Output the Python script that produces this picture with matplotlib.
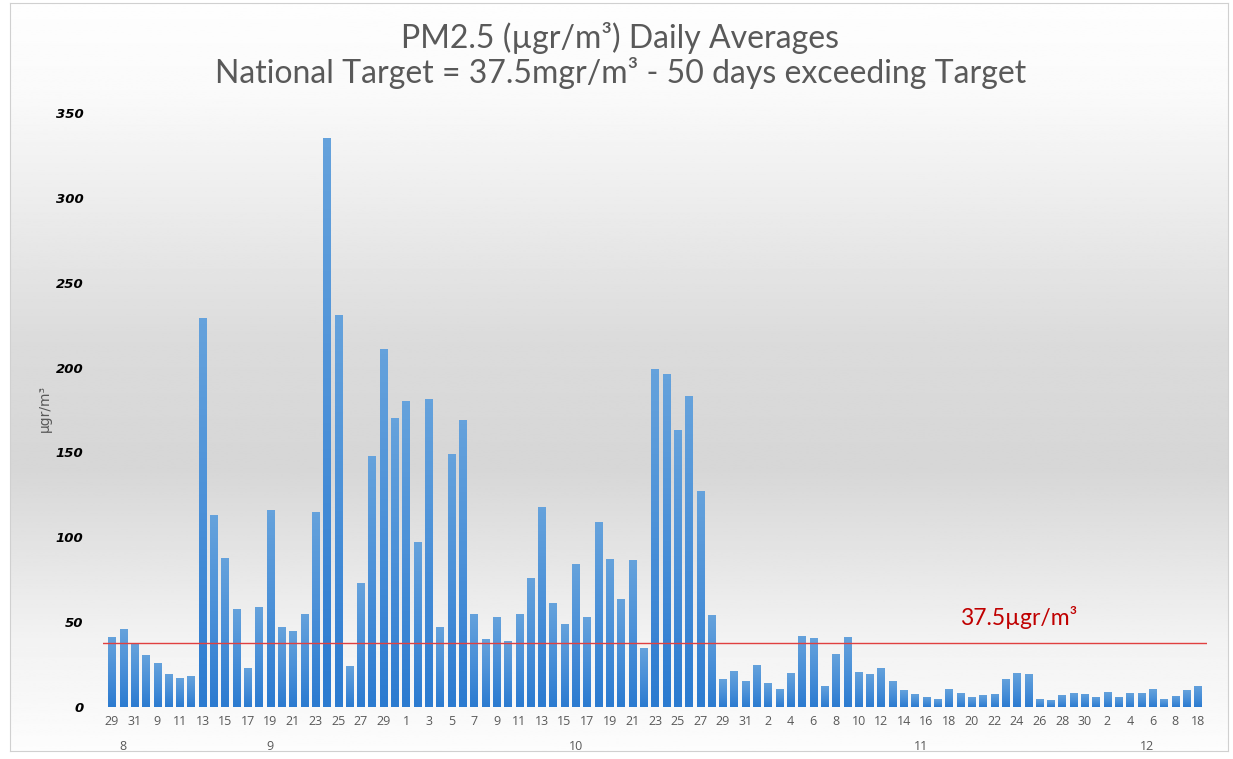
import matplotlib
matplotlib.use('Agg')
import matplotlib.pyplot as plt
import matplotlib.colors as mcolors
import numpy as np

# Daily PM2.5 averages, one bar per measured day
aug_days = [29, 30, 31]
aug_vals = [41, 46, 37]

sep_days = [8, 9, 10, 11, 12, 13, 14, 15, 16, 17, 18, 19, 20, 21, 22, 23, 24, 25, 26, 27, 28, 29, 30]
sep_vals = [30.5, 26, 19.6, 17, 18, 229, 113, 88, 58, 23, 59, 116, 47, 45, 55, 115,
            335, 231, 24, 73, 148, 211, 170]

oct_days = [1, 2, 3, 4, 5, 6, 7, 8, 9, 10, 11, 12, 13, 14, 15, 16, 17, 18, 19, 20,
            21, 22, 23, 24, 25, 26, 27, 28, 29, 30, 31]
oct_vals = [180.5, 97, 181.5, 47, 149, 169, 55, 40, 53, 39, 55, 76, 118, 61, 49, 84,
            53, 109, 87, 63.5, 86.5, 35, 199, 196, 163, 183.5, 127.5, 54, 16.4, 21, 15.6]

nov_days = [1, 2, 3, 4, 5, 6, 7, 8, 9, 10, 11, 12, 13, 14, 15, 16, 17, 18, 19, 20,
            21, 22, 23, 24, 25, 26, 27, 28, 29, 30]
nov_vals = [25, 14, 10.4, 20, 42, 40.5, 12.4, 31, 41.5, 20.6, 19.6, 23, 15.3, 10, 7.5,
            6, 4.5, 10.6, 8, 5.7, 7, 7.7, 16.7, 20, 19.3, 4.7, 4.1, 7, 8, 7.7]

dec_days = [1, 2, 3, 4, 5, 6, 7, 8, 17, 18]
dec_vals = [6, 8.6, 6, 8, 8, 10.4, 4.5, 6.5, 10, 12.4]

months = ['8', '9', '10', '11', '12']
month_days = [aug_days, sep_days, oct_days, nov_days, dec_days]
month_vals = [aug_vals, sep_vals, oct_vals, nov_vals, dec_vals]

target = 37.5

days = [d for m in month_days for d in m]
values = [v for m in month_vals for v in m]
x = np.arange(len(values))

W, H = 1233, 759
fig = plt.figure(figsize=(W / 100, H / 100), dpi=100)
fig.patch.set_facecolor('white')

# Background gradient panel (white -> grey -> white)
bg = fig.add_axes([10 / W, 8 / H, 1218 / W, 748 / H], zorder=-1)
stops_y = [0.0, 0.12, 0.45, 0.62, 0.85, 1.0]
stops_c = [0.995, 0.98, 0.86, 0.84, 0.95, 0.99]
grad = np.interp(np.linspace(0, 1, 400), stops_y, stops_c)
bg.imshow(np.repeat(grad[:, None], 2, axis=1), cmap='gray', vmin=0, vmax=1,
          aspect='auto', extent=[0, 1, 0, 1])
bg.set_xticks([])
bg.set_yticks([])
for s in bg.spines.values():
    s.set_color('#d0d0d0')

# Main axes
ax = fig.add_axes([103 / W, (H - 707) / H, 1104 / W, 594 / H])
ax.patch.set_alpha(0)
bars = ax.bar(x, values, width=0.66, color='none', zorder=2)

# Per-bar vertical gradient, light on top, darker at the base
bar_cmap = mcolors.LinearSegmentedColormap.from_list('bar', ['#2c7bd0', '#4a90d8', '#65a2dc'])
ramp = np.linspace(0, 1, 64)[:, None]
for b in bars:
    x0, w, h = b.get_x(), b.get_width(), b.get_height()
    im = ax.imshow(ramp, cmap=bar_cmap, origin='lower', aspect='auto',
                   extent=[x0, x0 + w, 0, h], zorder=2)
    im.set_clip_path(b)

ax.axhline(target, color='#e04040', lw=1, zorder=3)
ax.text(75, 53, '37.5µgr/m³', color='#c00000', fontsize=16.5, va='center',
        family=['Lato', 'DejaVu Sans'])

ax.set_xlim(-0.8, len(values) - 0.2)
ax.set_ylim(0, 350)
ax.set_yticks(range(0, 351, 50))
ax.set_yticklabels([str(v) for v in range(0, 351, 50)], fontsize=9.5,
                   fontweight='bold', fontstyle='italic', color='black')
ax.set_xticks(x[::2])
ax.set_xticklabels([str(d) for d in days[::2]], fontsize=9, color='#595959',
                   family=['Open Sans', 'DejaVu Sans'])
ax.tick_params(axis='both', length=0)
ax.tick_params(axis='x', pad=6)
ax.tick_params(axis='y', pad=14)
for s in ax.spines.values():
    s.set_visible(False)

# Month labels below the day labels
start = 0
for name, md in zip(months, month_days):
    center = start + (len(md) - 1) / 2
    ax.text(center, -0.066, name, transform=ax.get_xaxis_transform(),
            ha='center', va='center', fontsize=9, color='#595959',
            family=['Open Sans', 'DejaVu Sans'])
    start += len(md)

# Axis name
fig.text(45 / W, 1 - 408 / H, 'µgr/m³', rotation=90, fontsize=10,
         color='#595959', ha='center', va='center')

# Title
fig.text(0.503, 1 - 38 / H, 'PM2.5 (µgr/m³) Daily Averages', ha='center',
         va='center', fontsize=23, color='#595959', family=['Lato', 'DejaVu Sans'])
fig.text(0.503, 1 - 73 / H, 'National Target = 37.5mgr/m³ - 50 days exceeding Target',
         ha='center', va='center', fontsize=23, color='#595959',
         family=['Lato', 'DejaVu Sans'])

plt.savefig('out.png', dpi=100)
